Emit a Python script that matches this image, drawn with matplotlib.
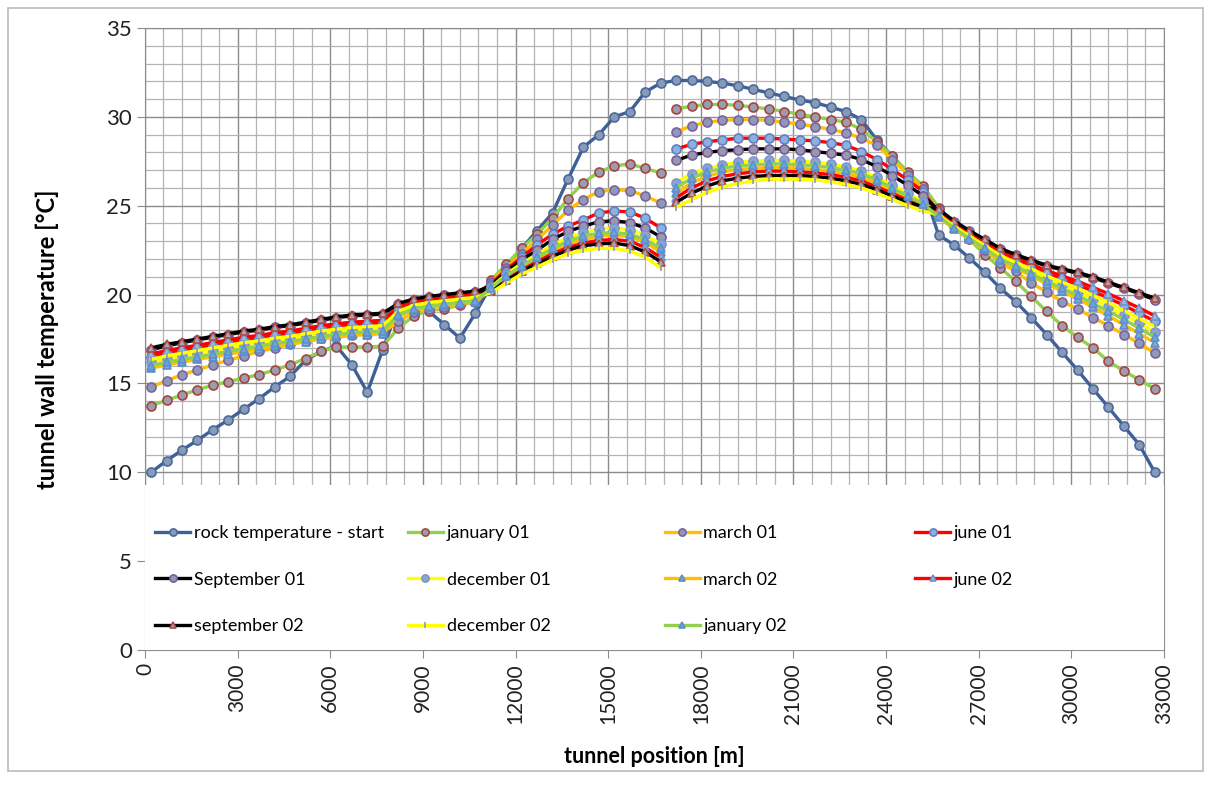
import numpy as np
import matplotlib
matplotlib.use('Agg')
import matplotlib.pyplot as plt
from matplotlib.ticker import MultipleLocator
from matplotlib.patches import Rectangle
from matplotlib.legend import Legend

plt.rcParams['font.family'] = ['Lato', 'DejaVu Sans']

# tunnel stations every 500 m
position = np.arange(200, 33000, 500)
# seasonal runs are split into two ventilation sections after this index
split = 34

rock_start = [10.0, 10.65, 11.25, 11.8, 12.4, 12.95, 13.55, 14.15, 14.8, 15.4, 16.3, 16.8, 17.1, 16.05, 14.5, 16.9,
              19.3, 19.7, 19.05, 18.3, 17.55, 18.95,
              20.5, 21.6, 22.6, 23.6, 24.6, 26.5, 28.3, 29.0, 30.0, 30.3, 31.4, 31.9,
              32.05, 32.05, 32.0, 31.9, 31.75, 31.55, 31.35, 31.15, 30.95, 30.8, 30.55, 30.3, 29.85, 28.7, 27.8, 26.85, 26.0,
              23.35, 22.8, 22.05, 21.25, 20.35, 19.6, 18.7, 17.75, 16.75, 15.75, 14.7, 13.65, 12.6, 11.55, 10.0]

jan01 = [13.75, 14.05, 14.35, 14.65, 14.9, 15.1, 15.3, 15.5, 15.75, 16.05, 16.4, 16.8, 17.05, 17.05, 17.05, 17.1,
         18.1, 18.8, 19.1, 19.2, 19.4, 19.6,
         20.8, 21.7, 22.6, 23.4, 24.3, 25.4, 26.3, 26.9, 27.25, 27.35, 27.1, 26.85,
         30.45, 30.6, 30.7, 30.7, 30.65, 30.55, 30.45, 30.3, 30.15, 30.0, 29.85, 29.7, 29.3, 28.6, 27.8, 26.9, 26.1,
         24.9, 24.0, 23.1, 22.25, 21.5, 20.75, 19.9, 19.05, 18.25, 17.6, 17.0, 16.25, 15.7, 15.2, 14.7]

mar01 = [14.8, 15.15, 15.5, 15.75, 16.05, 16.3, 16.55, 16.8, 17.0, 17.2, 17.4, 17.55, 17.65, 17.75, 17.8, 17.85,
         18.5, 19.0, 19.2, 19.3, 19.45, 19.6,
         20.7, 21.5, 22.3, 23.1, 23.9, 24.75, 25.35, 25.8, 25.9, 25.85, 25.55, 25.15,
         29.15, 29.5, 29.7, 29.8, 29.85, 29.85, 29.8, 29.7, 29.6, 29.45, 29.3, 29.1, 28.8, 28.4, 27.6, 26.75, 25.95,
         24.5, 23.85, 23.2, 22.5, 21.8, 21.3, 20.65, 20.15, 19.6, 19.2, 18.7, 18.25, 17.75, 17.25, 16.7]

jun01 = [16.5, 16.7, 16.85, 17.0, 17.15, 17.3, 17.45, 17.55, 17.7, 17.8, 17.95, 18.1, 18.2, 18.3, 18.35, 18.4,
         19.25, 19.55, 19.7, 19.8, 19.9, 20.0,
         20.6, 21.4, 22.1, 22.8, 23.4, 23.85, 24.2, 24.6, 24.7, 24.65, 24.3, 23.75,
         28.2, 28.45, 28.6, 28.7, 28.8, 28.8, 28.8, 28.75, 28.7, 28.65, 28.55, 28.4, 28.05, 27.6, 27.05, 26.45, 25.8,
         24.6, 23.95, 23.35, 22.85, 22.3, 21.95, 21.6, 21.2, 20.9, 20.55, 20.2, 19.8, 19.4, 18.95, 18.5]

sep01 = [16.9, 17.1, 17.3, 17.45, 17.6, 17.75, 17.9, 18.0, 18.15, 18.25, 18.4, 18.55, 18.7, 18.8, 18.85, 18.9,
         19.45, 19.7, 19.85, 19.95, 20.05, 20.15,
         20.5, 21.3, 21.95, 22.5, 23.1, 23.55, 23.85, 24.1, 24.15, 24.05, 23.75, 23.25,
         27.55, 27.85, 28.0, 28.1, 28.15, 28.2, 28.2, 28.2, 28.15, 28.05, 27.95, 27.85, 27.6, 27.2, 26.7, 26.15, 25.55,
         24.75, 24.1, 23.55, 23.05, 22.55, 22.2, 21.9, 21.6, 21.4, 21.2, 20.95, 20.65, 20.35, 20.05, 19.7]

dec01 = [16.2, 16.4, 16.55, 16.7, 16.85, 17.0, 17.15, 17.25, 17.4, 17.5, 17.65, 17.8, 17.9, 18.0, 18.05, 18.1,
         19.0, 19.35, 19.5, 19.6, 19.7, 19.8,
         20.4, 21.15, 21.75, 22.25, 22.8, 23.2, 23.5, 23.7, 23.75, 23.65, 23.35, 22.85,
         26.3, 26.8, 27.1, 27.3, 27.45, 27.5, 27.55, 27.55, 27.5, 27.45, 27.35, 27.2, 26.95, 26.6, 26.15, 25.7, 25.2,
         24.45, 23.8, 23.2, 22.65, 22.1, 21.7, 21.3, 20.9, 20.55, 20.15, 19.75, 19.3, 18.85, 18.4, 17.9]

mar02 = [15.85, 16.05, 16.2, 16.35, 16.5, 16.65, 16.8, 16.95, 17.1, 17.2, 17.35, 17.5, 17.6, 17.7, 17.75, 17.8,
         18.8, 19.15, 19.3, 19.4, 19.5, 19.6,
         20.3, 21.0, 21.5, 22.0, 22.45, 22.85, 23.1, 23.3, 23.35, 23.25, 22.95, 22.4,
         25.7, 26.3, 26.65, 26.9, 27.05, 27.1, 27.15, 27.15, 27.1, 27.05, 26.95, 26.8, 26.6, 26.25, 25.85, 25.4, 25.0,
         24.35, 23.7, 23.1, 22.55, 21.95, 21.5, 21.05, 20.6, 20.2, 19.75, 19.3, 18.8, 18.3, 17.8, 17.3]

jun02 = [16.65, 16.85, 17.0, 17.15, 17.3, 17.45, 17.6, 17.7, 17.85, 17.95, 18.1, 18.25, 18.35, 18.45, 18.5, 18.55,
         19.3, 19.6, 19.75, 19.85, 19.95, 20.05,
         20.25, 20.9, 21.4, 21.85, 22.3, 22.65, 22.9, 23.05, 23.1, 23.0, 22.65, 22.1,
         25.45, 26.0, 26.4, 26.65, 26.8, 26.9, 26.95, 26.95, 26.9, 26.85, 26.75, 26.6, 26.4, 26.05, 25.7, 25.3, 24.95,
         24.65, 24.0, 23.45, 22.9, 22.4, 22.05, 21.7, 21.35, 21.05, 20.75, 20.4, 20.05, 19.65, 19.25, 18.8]

sep02 = [17.0, 17.2, 17.35, 17.5, 17.65, 17.8, 17.95, 18.05, 18.2, 18.3, 18.45, 18.6, 18.75, 18.85, 18.9, 18.95,
         19.5, 19.75, 19.9, 20.0, 20.1, 20.2,
         20.2, 20.8, 21.3, 21.75, 22.15, 22.5, 22.75, 22.85, 22.9, 22.75, 22.4, 21.85,
         25.2, 25.7, 26.1, 26.4, 26.55, 26.65, 26.7, 26.7, 26.7, 26.65, 26.55, 26.4, 26.2, 25.9, 25.55, 25.2, 24.95,
         24.8, 24.15, 23.6, 23.1, 22.6, 22.25, 21.95, 21.65, 21.45, 21.25, 21.0, 20.7, 20.4, 20.1, 19.8]

dec02 = [16.35, 16.55, 16.7, 16.85, 17.0, 17.15, 17.3, 17.4, 17.55, 17.65, 17.8, 17.95, 18.05, 18.15, 18.2, 18.25,
         19.05, 19.4, 19.55, 19.65, 19.75, 19.85,
         20.1, 20.65, 21.15, 21.55, 21.95, 22.3, 22.5, 22.6, 22.6, 22.45, 22.1, 21.5,
         24.9, 25.35, 25.75, 26.05, 26.25, 26.4, 26.5, 26.5, 26.5, 26.45, 26.35, 26.2, 26.0, 25.7, 25.35, 25.0, 24.7,
         24.5, 23.85, 23.3, 22.75, 22.2, 21.8, 21.45, 21.05, 20.7, 20.35, 19.95, 19.55, 19.1, 18.65, 18.2]

jan02 = [16.0, 16.2, 16.35, 16.5, 16.65, 16.8, 16.95, 17.1, 17.25, 17.35, 17.5, 17.65, 17.75, 17.85, 17.9, 17.95,
         18.85, 19.2, 19.35, 19.45, 19.55, 19.65,
         20.35, 21.05, 21.6, 22.1, 22.6, 23.0, 23.3, 23.45, 23.5, 23.4, 23.1, 22.6,
         26.0, 26.55, 26.9, 27.1, 27.25, 27.3, 27.35, 27.35, 27.3, 27.25, 27.15, 27.0, 26.8, 26.45, 26.0, 25.55, 25.1,
         24.4, 23.75, 23.15, 22.6, 22.0, 21.6, 21.15, 20.75, 20.35, 19.95, 19.5, 19.05, 18.6, 18.1, 17.6]

# label, values, line colour, marker, marker face, marker edge, marker size
series = [
    ('january 01', jan01, '#92D050', 'o', '#9A9CB0', '#A5463E', 6.5),
    ('march 01', mar01, '#FFC000', 'o', '#8E98B8', '#7C62A0', 6.5),
    ('june 01', jun01, '#FF0000', 'o', '#8FB0DC', '#5C80C2', 6.5),
    ('September 01', sep01, '#000000', 'o', '#9698B0', '#7A5C98', 6.5),
    ('december 01', dec01, '#FFFF00', 'o', '#8CA4D4', '#7D96CC', 6.5),
    ('march 02', mar02, '#FFC000', '^', '#7EA8DA', '#5B8CCA', 6),
    ('june 02', jun02, '#FF0000', '^', '#9CB6DE', '#6E92CC', 6),
    ('september 02', sep02, '#000000', '^', '#A0A8C8', '#B04A3A', 6),
    ('december 02', dec02, '#FFFF00', '|', '#8A9AC0', '#8A9AC0', 5),
    ('january 02', jan02, '#92D050', '^', '#6EA2DA', '#5B8FD0', 6),
]

fig = plt.figure(figsize=(12.11, 7.85), dpi=100)
ax = fig.add_axes([0.1197, 0.172, 0.8415, 0.7923])

# chart area border
fig.patches.append(Rectangle((0.007, 0.018), 0.986, 0.972, transform=fig.transFigure,
                             fill=False, edgecolor='#BBBBBB', linewidth=1.2))

handles = {}
h, = ax.plot(position, rock_start, color='#3D6096', lw=2.4, marker='o', ms=6.5,
             mfc='#8A9AB6', mec='#4A6A9E', mew=1.2, label='rock temperature - start', zorder=3)
handles['rock temperature - start'] = h

for label, vals, col, mk, mfc, mec, ms in series:
    vals = np.array(vals)
    h, = ax.plot(position[:split], vals[:split], color=col, lw=2.4, marker=mk, ms=ms,
                 mfc=mfc, mec=mec, mew=1.2, label=label, zorder=3)
    ax.plot(position[split:], vals[split:], color=col, lw=2.4, marker=mk, ms=ms,
            mfc=mfc, mec=mec, mew=1.2, zorder=3)
    handles[label] = h

ax.set_xlim(0, 33000)
ax.set_ylim(0, 35)
ax.xaxis.set_major_locator(MultipleLocator(3000))
ax.xaxis.set_minor_locator(MultipleLocator(600))
ax.yaxis.set_major_locator(MultipleLocator(5))
ax.yaxis.set_minor_locator(MultipleLocator(1))
ax.grid(which='major', color='#8C8C8C', lw=1.0)
ax.grid(which='minor', color='#B4B4B4', lw=0.9)
ax.set_axisbelow(True)
for s in ax.spines.values():
    s.set_color('#8C8C8C')
ax.tick_params(axis='both', which='major', direction='out', length=6, color='#8C8C8C',
               labelsize=16, labelcolor='#222222')
ax.tick_params(axis='both', which='minor', length=0)
ax.tick_params(axis='x', labelrotation=90, labelsize=15)

ax.set_xlabel('tunnel position [m]', fontsize=15.5, fontweight='bold', labelpad=16)
ax.set_ylabel('tunnel wall temperature [°C]', fontsize=17, fontweight='bold', labelpad=34)

# white legend area over the lower part of the grid
ax.add_patch(Rectangle((0, 0), 1, 0.265, transform=ax.transAxes, facecolor='white',
                       edgecolor='none', zorder=4))

# legend in four fixed-width columns, filled row by row
columns = [
    (0.0098, ['rock temperature - start', 'September 01', 'september 02']),
    (0.258, ['january 01', 'december 01', 'december 02']),
    (0.510, ['march 01', 'march 02', 'january 02']),
    (0.7556, ['june 01', 'june 02']),
]
for x0, names in columns:
    leg = Legend(ax, [handles[k] for k in names], names, loc='upper left',
                 bbox_to_anchor=(x0, 0.201), frameon=False, fontsize=13,
                 handlelength=1.95, handletextpad=0.2, labelspacing=1.7,
                 borderaxespad=0.0, borderpad=0.0, markerscale=0.8)
    leg.set_zorder(5)
    ax.add_artist(leg)

fig.savefig('out.png', dpi=100)
